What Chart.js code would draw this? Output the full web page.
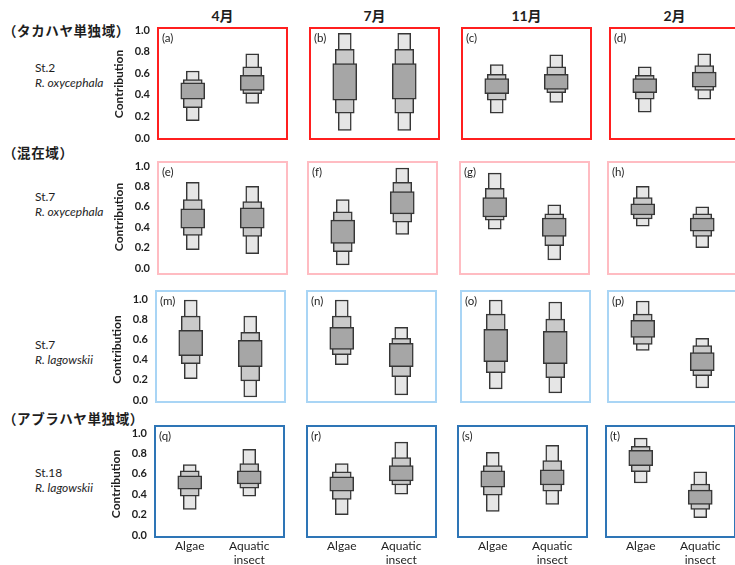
<!DOCTYPE html>
<html>
<head>
<meta charset="utf-8">
<script src="https://cdn.jsdelivr.net/npm/chart.js@4.4.1/dist/chart.umd.min.js"></script>
<style>
  html, body { margin: 0; padding: 0; background: #fff; overflow: hidden; }
  #fig { position: relative; width: 735px; height: 565px; overflow: hidden;
         font-family: Lato, "Noto Sans CJK JP", sans-serif; color: #1e1e1e; }
  #fig canvas { position: absolute; }
  .t { position: absolute; white-space: nowrap; line-height: 16px; }
</style>
</head>
<body>
<div id="fig"></div>
<script>
// ---- data ---------------------------------------------------------------
const months = ['4月', '7月', '11月', '2月'];
const regions = ['（タカハヤ単独域）', '（混在域）', null, '（アブラハヤ単独域）'];
const stations = ['St.2', 'St.7', 'St.7', 'St.18'];
const species = ['R. oxycephala', 'R. oxycephala', 'R. lagowskii', 'R. lagowskii'];
const panelLetters = ['a', 'b', 'c', 'd', 'e', 'f', 'g', 'h', 'm', 'n', 'o', 'p', 'q', 'r', 's', 't'];
const categories = ['Algae', 'Aquatic insect'];

// credible intervals per panel: [Algae [lo, hi], Aquatic insect [lo, hi]]
const outerCI = [
  [[0.16, 0.62], [0.32, 0.78]],
  [[0.07, 0.97], [0.07, 0.97]],
  [[0.23, 0.68], [0.33, 0.77]],
  [[0.24, 0.66], [0.36, 0.78]],
  [[0.18, 0.84], [0.14, 0.80]],
  [[0.03, 0.67], [0.33, 0.98]],
  [[0.38, 0.93], [0.08, 0.62]],
  [[0.41, 0.80], [0.20, 0.60]],
  [[0.21, 0.99], [0.03, 0.83]],
  [[0.35, 0.99], [0.05, 0.72]],
  [[0.11, 0.99], [0.07, 0.97]],
  [[0.49, 0.98], [0.12, 0.61]],
  [[0.25, 0.69], [0.38, 0.84]],
  [[0.20, 0.70], [0.40, 0.91]],
  [[0.23, 0.81], [0.30, 0.88]],
  [[0.51, 0.95], [0.17, 0.62]]
];
const middleCI = [
  [[0.28, 0.54], [0.41, 0.66]],
  [[0.23, 0.82], [0.23, 0.82]],
  [[0.35, 0.59], [0.42, 0.66]],
  [[0.36, 0.58], [0.44, 0.67]],
  [[0.32, 0.67], [0.31, 0.65]],
  [[0.16, 0.55], [0.45, 0.84]],
  [[0.47, 0.78], [0.22, 0.53]],
  [[0.48, 0.69], [0.31, 0.53]],
  [[0.36, 0.83], [0.19, 0.67]],
  [[0.45, 0.83], [0.23, 0.61]],
  [[0.27, 0.85], [0.22, 0.80]],
  [[0.55, 0.85], [0.24, 0.54]],
  [[0.38, 0.63], [0.46, 0.70]],
  [[0.35, 0.62], [0.49, 0.76]],
  [[0.39, 0.68], [0.43, 0.73]],
  [[0.62, 0.87], [0.25, 0.50]]
];
const innerCI = [
  [[0.36, 0.51], [0.44, 0.58]],
  [[0.35, 0.69], [0.36, 0.69]],
  [[0.41, 0.55], [0.45, 0.59]],
  [[0.42, 0.55], [0.47, 0.61]],
  [[0.39, 0.58], [0.39, 0.59]],
  [[0.24, 0.47], [0.53, 0.75]],
  [[0.50, 0.69], [0.31, 0.49]],
  [[0.52, 0.63], [0.36, 0.49]],
  [[0.44, 0.69], [0.33, 0.59]],
  [[0.50, 0.72], [0.33, 0.56]],
  [[0.38, 0.70], [0.36, 0.68]],
  [[0.62, 0.79], [0.29, 0.47]],
  [[0.45, 0.58], [0.50, 0.63]],
  [[0.43, 0.57], [0.53, 0.68]],
  [[0.47, 0.63], [0.49, 0.64]],
  [[0.68, 0.83], [0.30, 0.44]]
];

// ---- layout -------------------------------------------------------------
// top/bottom: pixel rows of 1.0 and 0.0; boxTop/boxBottom: panel frame
const rowLayout = [
  { top: 30,  bottom: 138, boxTop: 28,  boxBottom: 139, lefts: [158, 310, 462, 610], frame: '#ff1f1f' },
  { top: 166, bottom: 268, boxTop: 162, boxBottom: 274, lefts: [158, 308, 460, 608], frame: '#ffbcc2' },
  { top: 299, bottom: 400, boxTop: 291, boxBottom: 402, lefts: [156, 307, 461, 608], frame: '#a9d5f5' },
  { top: 433, bottom: 535, boxTop: 426, boxBottom: 537, lefts: [155, 307, 458, 606], frame: '#2e75b6' }
];
const regionY = [30, 152, null, 418];
const stationY = [68, 197, 345, 473];
const BOX_W = 129, INSET = 5;
const PAD_T = 26, PAD_R = 10, PAD_B = 26;
const Y_AXIS_W = 60, X_AXIS_H = 40;

const fig = document.getElementById('fig');
const TEXT = '#1e1e1e';

function addText(txt, x, yc, css) {
  const d = document.createElement('div');
  d.className = 't';
  d.textContent = txt;
  d.style.left = x + 'px';
  d.style.top = (yc - 8) + 'px';
  Object.assign(d.style, css || {});
  fig.appendChild(d);
  return d;
}

// frame around each panel, drawn from the chart area outward
const panelFrame = {
  id: 'panelFrame',
  afterDraw(chart, args, opts) {
    const { ctx, chartArea } = chart;
    ctx.save();
    ctx.strokeStyle = opts.color;
    ctx.lineWidth = 2;
    ctx.strokeRect(chartArea.left - INSET, chartArea.top - opts.dTop,
                   BOX_W, opts.height);
    ctx.restore();
  }
};

// column headers
months.forEach((m, c) => {
  addText(m, rowLayout[0].lefts[c], 16,
    { width: BOX_W + 'px', textAlign: 'center', fontSize: '14px', fontWeight: 'bold' });
});

// row labels
rowLayout.forEach((row, r) => {
  if (regions[r]) {
    addText(regions[r], 3, regionY[r],
      { fontFamily: '"Noto Sans CJK JP", sans-serif', fontSize: '13.5px', fontWeight: 'bold', letterSpacing: '0.6px' });
  }
  addText(stations[r], 35, stationY[r], { fontSize: '12px' });
  addText(species[r], 35, stationY[r] + 15, { fontSize: '12px', fontStyle: 'italic' });
});

// panels
rowLayout.forEach((row, r) => {
  row.lefts.forEach((boxLeft, c) => {
    const p = r * 4 + c;
    const showY = c === 0, showX = r === 3;
    const L = boxLeft + INSET, R = boxLeft + BOX_W - INSET;
    const padL = showY ? Y_AXIS_W : 10;
    const padB = showX ? X_AXIS_H : PAD_B;
    const cv = document.createElement('canvas');
    const w = (R - L) + padL + PAD_R;
    const h = (row.bottom - row.top) + PAD_T + padB;
    cv.width = w; cv.height = h;
    cv.style.width = w + 'px'; cv.style.height = h + 'px';
    cv.style.left = (L - padL) + 'px';
    cv.style.top = (row.top - PAD_T) + 'px';
    fig.appendChild(cv);

    addText('(' + panelLetters[p] + ')', boxLeft + 4, row.boxTop + 10, { fontSize: '11.5px' });

    const bar = (data, thickness, fill) => ({
      data, backgroundColor: fill, borderColor: '#363636', borderWidth: 1.5,
      borderSkipped: false, barThickness: thickness, grouped: false
    });

    new Chart(cv, {
      type: 'bar',
      data: {
        labels: categories,
        datasets: [
          bar(innerCI[p], 24, '#a6a6a6'),
          bar(middleCI[p], 19, '#c9c9c9'),
          bar(outerCI[p], 13, '#e6e6e6')
        ]
      },
      options: {
        responsive: false,
        animation: false,
        devicePixelRatio: 1,
        layout: {
          padding: { top: PAD_T, right: PAD_R, left: showY ? 0 : padL, bottom: showX ? 0 : padB }
        },
        plugins: {
          legend: { display: false },
          tooltip: { enabled: false },
          panelFrame: { color: row.frame, dTop: row.top - row.boxTop, height: row.boxBottom - row.boxTop }
        },
        scales: {
          x: {
            display: showX,
            offset: true,
            grid: { display: false, drawTicks: false },
            border: { display: false },
            ticks: {
              padding: 4, color: TEXT, maxRotation: 0, autoSkip: false,
              font: { family: 'Lato', size: 12, lineHeight: 1.2 },
              callback(v) { return this.getLabelForValue(v).split(' '); }
            },
            afterFit(s) { if (showX) s.height = X_AXIS_H; }
          },
          y: {
            display: showY,
            min: 0, max: 1,
            grid: { display: false, drawTicks: false },
            border: { display: false },
            ticks: {
              stepSize: 0.2, padding: 13, color: TEXT,
              font: { family: 'Lato', size: 11, weight: 'bold' },
              callback: v => v.toFixed(1)
            },
            title: {
              display: true, text: 'Contribution', color: TEXT,
              font: { family: 'Lato', size: 12, weight: 'bold' },
              padding: { top: 9, bottom: 0 }
            },
            afterFit(s) { if (showY) s.width = Y_AXIS_W; }
          }
        }
      },
      plugins: [panelFrame]
    });
  });
});
</script>
</body>
</html>
